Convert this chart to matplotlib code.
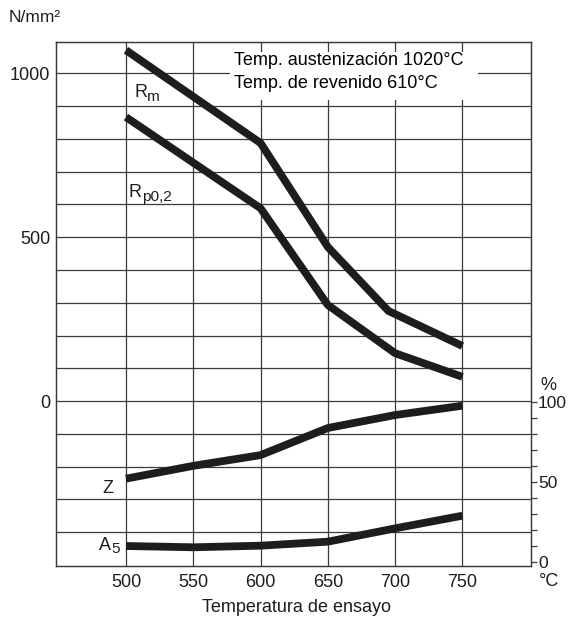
import matplotlib
matplotlib.use("Agg")
import matplotlib.pyplot as plt
from matplotlib.patches import Rectangle

plt.rcParams['font.family'] = ['Liberation Sans', 'DejaVu Sans']

# == data == #
rm_temp = [500, 600, 650, 695, 750]
rm_val = [1070, 787, 470, 275, 168]

rp_temp = [500, 600, 650, 700, 750]
rp_val = [866, 588, 293, 146, 74]

z_temp = [500, 550, 600, 650, 700, 750]
z_val = [52, 60, 66.7, 83.6, 91.7, 97.5]

a5_temp = [500, 550, 600, 650, 700, 750]
a5_val = [10, 9.2, 10.2, 12.7, 21, 28.9]

x_ticks = [500, 550, 600, 650, 700, 750]
left_ticks = [0, 500, 1000]
right_ticks = [0, 50, 100]

ink = '#1f1c1c'
grid_c = '#3a3a3a'
fs = 13

fig = plt.figure(figsize=(5.68, 6.24), dpi=100)
ax = fig.add_axes([0.0986, 0.0934, 0.8363, 0.8398])
ax2 = ax.twinx()

ax.set_xlim(448, 801)
ax.set_ylim(-502, 1096)
ax2.set_ylim(-2.3, 324.6)

# grid
for t in x_ticks:
    ax.axvline(t, color=grid_c, lw=0.9, zorder=1)
for v in range(-400, 1100, 100):
    ax.axhline(v, color=grid_c, lw=0.9, zorder=1)

# white box behind the note
ax.add_patch(Rectangle((577, 918), 184.5, 146, facecolor='white',
                       edgecolor='none', zorder=2))
ax.text(580, 1040, 'Temp. austenización 1020°C', fontsize=fs, va='center', zorder=3)
ax.text(580, 967, 'Temp. de revenido 610°C', fontsize=fs, va='center', zorder=3)

lw = 5.6
ax.plot(rm_temp, rm_val, color=ink, lw=lw, solid_capstyle='butt', zorder=4)
ax.plot(rp_temp, rp_val, color=ink, lw=lw, solid_capstyle='butt', zorder=4)
ax2.plot(z_temp, z_val, color=ink, lw=lw, solid_capstyle='butt', zorder=4)
ax2.plot(a5_temp, a5_val, color=ink, lw=lw, solid_capstyle='butt', zorder=4)


def label(a, x, y, main, sub, adv):
    a.text(x, y, main, fontsize=fs, va='center', color=ink)
    a.annotate(sub, xy=(x, y), xytext=(adv * fs, -3), textcoords='offset points',
               fontsize=fs * 0.85, va='center', color=ink)


# curve labels
label(ax, 506, 940, 'R', 'm', 0.722)
label(ax, 502, 636, 'R', 'p0,2', 0.722)
ax2.text(491, 46, 'Z', fontsize=fs, va='center', ha='right', color=ink)
label(ax2, 480, 10.5, 'A', '5', 0.667)

# axes styling
for a in (ax, ax2):
    for s in a.spines.values():
        s.set_color(grid_c)
        s.set_linewidth(0.9)

ax.set_xticks(x_ticks)
ax.set_yticks(left_ticks)
ax.tick_params(axis='both', length=0, labelsize=fs, pad=6, colors=ink)
ax.tick_params(axis='y', pad=4)

ax2.set_yticks(right_ticks)
ax2.set_yticks(range(0, 101, 10), minor=True)
ax2.tick_params(axis='y', which='both', length=4, width=0.9, color=grid_c,
                labelsize=12.5, pad=1, labelcolor=ink)

fig.text(9 / 568, 1 - 18 / 624, 'N/mm²', fontsize=12.5, va='center', color=ink)
fig.text(548 / 568, 1 - 385 / 624, '%', fontsize=fs, va='center', ha='center', color=ink)
fig.text(549 / 568, 1 - 581 / 624, '°C', fontsize=fs, va='center', ha='center', color=ink)
fig.text(296 / 568, 1 - 608 / 624, 'Temperatura de ensayo', fontsize=fs,
         va='center', ha='center', color=ink)

fig.savefig('out.png', dpi=100)
